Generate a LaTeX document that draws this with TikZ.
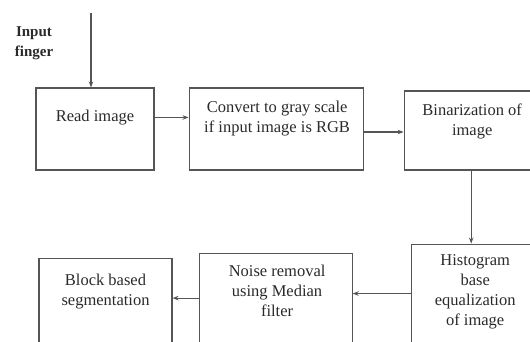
\documentclass[tikz,border=0pt]{standalone}
\usepackage{fontspec}
\setmainfont{Liberation Serif}
\usepackage{xcolor}
\usepackage{tikz}
\usetikzlibrary{arrows.meta,positioning,calc}
\definecolor{linegray}{HTML}{555555}
\definecolor{textgray}{HTML}{2A2A2A}

\begin{document}
\begin{tikzpicture}[x=1pt,y=-1pt,>={Stealth[length=6pt,width=4.5pt]},font=\fontsize{16.5}{20}\selectfont,text=textgray]
        \tikzstyle{box}=[rectangle,draw=linegray,line width=1.1pt,minimum height=82pt,inner sep=0pt]
        \tikzstyle{lbl}=[align=center,inner sep=0pt]
        \tikzstyle{conn}=[->,draw=linegray,line width=1.1pt]
        \useasboundingbox (0,0) rectangle (530,341);
        \clip (0,0) rectangle (530,341);
        % top row
        \node[box,minimum width=118pt] (read) at (95,129) {};
        \node[box,minimum width=174pt,right=34pt of read] (conv) {};
        \node[box,minimum width=127pt,minimum height=79pt,right=40pt of conv,yshift=-1.5pt] (bin) {};
        % bottom row
        \node[box,minimum width=120pt,minimum height=110pt,below=73pt of bin,xshift=3.5pt] (hist) {};
        \node[box,minimum width=153pt,minimum height=100pt,anchor=north east] (noise) at ([xshift=-58pt,yshift=-9pt]hist.north west) {};
        \node[box,minimum width=133pt,minimum height=100pt,anchor=north east] (seg) at ([xshift=-26pt,yshift=-5pt]noise.north west) {};
        % texts
        \node[lbl,font=\fontsize{15}{20}\selectfont\bfseries] (inlbl) at (34,43) {Input\\finger};
        \node[lbl] (readlbl) at ([yshift=-30pt]read.north) {Read image};
        \node[lbl] (convlbl) at ([xshift=1pt,yshift=-31pt]conv.north) {Convert to gray scale\\if input image is RGB};
        \node[lbl] (binlbl) at ([xshift=4.5pt,yshift=-31pt]bin.north) {Binarization of\\image};
        \node[lbl] (histlbl) at ([xshift=4pt,yshift=-48pt]hist.north) {Histogram\\base\\equalization\\of image};
        \node[lbl] (noiselbl) at ([xshift=1.5pt,yshift=-38pt]noise.north) {Noise removal\\using Median\\filter};
        \node[lbl] (seglbl) at ([yshift=-34pt]seg.north) {Block based\\segmentation};
        \coordinate (src) at (91,13);
        \draw[conn] (src) -- (src |- read.north);
        \draw[conn] (read.east |- readlbl) -- (conv.west |- readlbl);
        \draw[conn] ([yshift=-3pt]conv.east) -- ([yshift=-3pt]conv.east -| bin.west);
        \draw[conn] (bin.south -| hist.north) -- (hist.north);
        \draw[conn] ([yshift=-2pt]hist.west |- histlbl) -- ([yshift=-2pt]noise.east |- histlbl);
        \draw[conn] ([yshift=5pt]noise.west) -- ([yshift=5pt]noise.west -| seg.east);
\end{tikzpicture}
\end{document}
